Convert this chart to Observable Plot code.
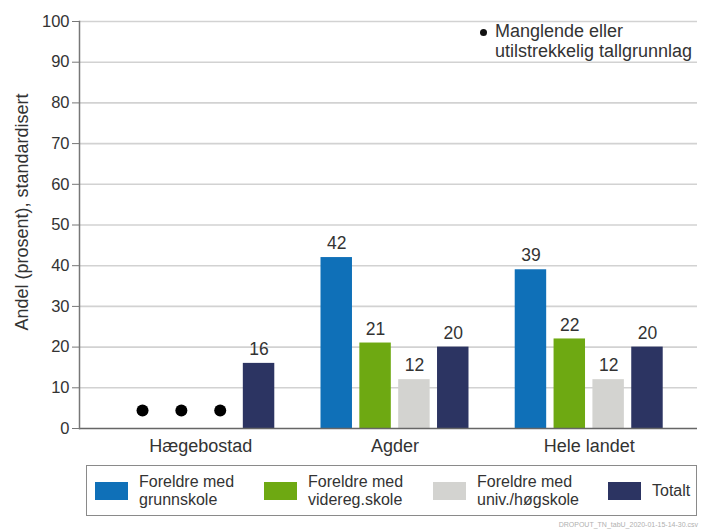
<!DOCTYPE html>
<html>
<head>
<meta charset="utf-8">
<script src="https://cdn.jsdelivr.net/npm/d3@7"></script>
<script src="https://cdn.jsdelivr.net/npm/@observablehq/plot@0.6"></script>
<style>
  html, body { margin: 0; padding: 0; background: #fff; }
  body { width: 705px; height: 532px; position: relative; overflow: hidden; font-family: "Liberation Sans", Arial, sans-serif; color: #333; }
  #chart { position: absolute; left: 0; top: 0; }
  .note { position: absolute; left: 495px; top: 22px; font-size: 18px; line-height: 19.5px; color: #333; }
  .note .bullet { position: absolute; left: -15px; top: 7px; width: 7px; height: 7px; border-radius: 50%; background: #111; }
  .legend { position: absolute; left: 86px; top: 465px; width: 609px; height: 49px; border: 1.5px solid #8a8a8a; }
  .item { position: absolute; top: 0; height: 49px; display: flex; align-items: center; }
  .sw { width: 33px; height: 18px; margin-right: 11px; }
  .lab { font-size: 16px; line-height: 17.5px; color: #333; }
  .caption { position: absolute; right: 7px; top: 521px; font-size: 7px; color: #b0b0b0; }
</style>
</head>
<body>
<div id="chart"></div>
<div class="note" id="note"></div>
<div class="legend" id="legend"></div>
<div class="caption" id="caption"></div>
<script>
const groups = ["Hægebostad", "Agder", "Hele landet"];
const series = ["Foreldre med grunnskole", "Foreldre med videreg.skole", "Foreldre med univ./høgskole", "Totalt"];
const legendLines = [["Foreldre med", "grunnskole"], ["Foreldre med", "videreg.skole"], ["Foreldre med", "univ./høgskole"], ["Totalt"]];
const colors = ["#0f70b8", "#6ea912", "#d3d3d0", "#2c3462"];
const haegebostad = [null, null, null, 16];
const agder = [42, 21, 12, 20];
const heleLandet = [39, 22, 12, 20];
const yTicks = [0, 10, 20, 30, 40, 50, 60, 70, 80, 90, 100];
const yLabel = "Andel (prosent), standardisert";
const noteLines = ["Manglende eller", "utilstrekkelig tallgrunnlag"];
const captionText = "DROPOUT_TN_tabU_2020-01-15-14-30.csv";

const groupValues = [haegebostad, agder, heleLandet];
const rows = groups.flatMap((g, gi) => series.map((s, si) => ({
  group: g, series: s, key: g + "|" + si, value: groupValues[gi][si]
})));
const present = rows.filter(d => d.value != null);
const missing = rows.filter(d => d.value == null);
const xDomain = groups.flatMap((g, gi) => [
  ...series.map((s, si) => g + "|" + si),
  ...(gi < groups.length - 1 ? [g + "|gap"] : [])
]);

const font = "Liberation Sans, Arial, sans-serif";
const plot = Plot.plot({
  width: 705,
  height: 460,
  marginLeft: 79,
  marginRight: 8,
  marginTop: 21,
  marginBottom: 32,
  style: { fontFamily: font, fontSize: "16px", color: "#333", background: "transparent" },
  x: { type: "band", domain: xDomain, range: [122.6, 666.4], paddingInner: 0.19, paddingOuter: 0.095, round: false, axis: null },
  y: { domain: [0, 100], ticks: yTicks, label: null },
  color: { domain: series, range: colors },
  marks: [
    Plot.ruleY(yTicks.filter(t => t > 0), { stroke: "#d2d2d2", strokeWidth: 1.6 }),
    Plot.axisY({ ticks: yTicks, tickSize: 7, tickPadding: 3, stroke: "#777", fontSize: 16.5, color: "#333", label: null }),
    Plot.text([yLabel], { frameAnchor: "left", textAnchor: "middle", dx: -57, dy: -13, rotate: -90, fontSize: 18, fill: "#333" }),
    Plot.barY(present, { x: "key", y: "value", fill: "series" }),
    Plot.text(present, { x: "key", y: "value", text: d => String(d.value), dy: -14, fontSize: 17.5, fill: "#333" }),
    Plot.dot(missing, { x: "key", y: () => 0, dy: -18, r: 6, fill: "#000" }),
    Plot.ruleY([0], { stroke: "#666", strokeWidth: 1.5 }),
    Plot.frame({ anchor: "left", stroke: "#777", strokeWidth: 1.5 }),
    Plot.text(groups, { x: g => g + "|1", y: () => 0, dx: 19.4, dy: 18, fontSize: 18, fill: "#333" })
  ]
});
document.getElementById("chart").appendChild(plot);

const note = document.getElementById("note");
note.innerHTML = '<div class="bullet"></div>' + noteLines.map(l => `<div>${l}</div>`).join("");

const legendOffsets = [8, 177, 346, 521];
const legend = document.getElementById("legend");
series.forEach((s, i) => {
  const it = document.createElement("div");
  it.className = "item";
  it.style.left = legendOffsets[i] + "px";
  it.innerHTML = `<div class="sw" style="background:${colors[i]}"></div><div class="lab">${legendLines[i].join("<br>")}</div>`;
  legend.appendChild(it);
});
document.getElementById("caption").textContent = captionText;
</script>
</body>
</html>
